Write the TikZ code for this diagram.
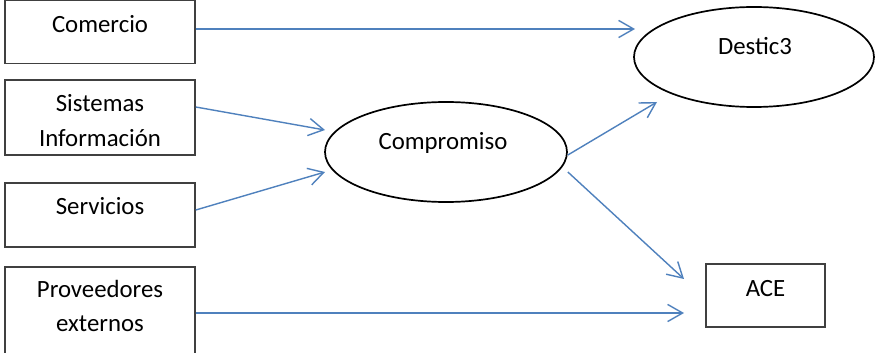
\documentclass[tikz,border=0pt]{standalone}
\usepackage{fontspec}
\setmainfont{Carlito}
\usetikzlibrary{arrows.meta,shapes.geometric}
\definecolor{linkblue}{HTML}{4F81BD}
\definecolor{boxline}{HTML}{404040}
\begin{document}
\begin{tikzpicture}[x=0.5pt,y=-0.5pt,
  box/.style={draw=boxline,line width=0.8pt,rectangle,inner sep=0pt,fill=white},
  oval/.style={draw=black,line width=0.85pt,ellipse,inner sep=0pt,fill=white,
    minimum width=121pt,minimum height=50pt},
  txt/.style={anchor=base,inner sep=0pt,font=\fontsize{12.4pt}{17pt}\selectfont,text=black},
  arr/.style={draw=linkblue,line width=0.7pt,-{Straight Barb[length=7.5pt,width=8.6pt,line width=0.7pt]}}]
\useasboundingbox (0,0) rectangle (875,353);
\fill[white] (0,0) rectangle (875,353);

% left-hand boxes
\node[box,minimum width=95pt,minimum height=31.5pt] (com) at (100,32) {};
\node[box,minimum width=95pt,minimum height=37.5pt] (sis) at (100,117.5) {};
\node[box,minimum width=95pt,minimum height=32pt] (ser) at (100,215) {};
\node[box,minimum width=95pt,minimum height=45pt] (pro) at (100,312) {};
% right-hand box
\node[box,minimum width=59.5pt,minimum height=31.5pt] (ace) at (765.5,295.5) {};
% ellipses
\node[oval] (cmp) at (446,152) {};
\node[oval,minimum width=120pt] (des) at (754,57) {};

% labels
\node[txt] (tcom) at (100,33) {Comercio};
\node[txt] (tsis1) at (100,112) {Sistemas};
\node[txt] (tsis2) at (100,147) {Información};
\node[txt] (tser) at (100,215) {Servicios};
\node[txt] (tpro1) at (100,298) {Proveedores};
\node[txt] (tpro2) at (100,332) {externos};
\node[txt] (tace) at (765.5,297) {ACE};
\node[txt] (tcmp) at (443,150) {Compromiso};
\node[txt] (tdes) at (755,55) {Destic3};

% arrow end points
\coordinate (e1) at (635,29);
\coordinate (e2) at (325,130);
\coordinate (e3) at (325,172);
\coordinate (e4) at (657,102);
\coordinate (e5) at (684,279);
\coordinate (e6) at (684,313);
\coordinate (s2) at (195,107);
\coordinate (s3) at (195,210);
\coordinate (s4) at (567,155);
\coordinate (s5) at (567,172);

% connectors
\draw[arr] (com.east |- e1) -- (e1);
\draw[arr] (sis.east |- s2) -- (e2);
\draw[arr] (ser.east |- s3) -- (e3);
\draw[arr] (cmp.east |- s4) -- (e4);
\draw[arr] (cmp.east |- s5) -- (e5);
\draw[arr] (pro.east |- e6) -- (e6);
\end{tikzpicture}
\end{document}
